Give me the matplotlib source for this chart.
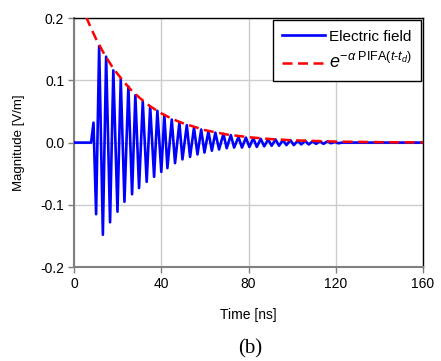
import matplotlib
matplotlib.use("Agg")
import matplotlib.pyplot as plt

plt.rcParams['font.family'] = ['Liberation Sans', 'DejaVu Sans']
plt.rcParams['axes.unicode_minus'] = False
plt.rcParams['mathtext.fontset'] = 'custom'
plt.rcParams['mathtext.rm'] = 'Liberation Sans'
plt.rcParams['mathtext.it'] = 'Liberation Sans:italic'

# Electric field: extrema (time ns, value V/m)
field_t = [0.0, 7.8, 8.9, 10.1, 11.5, 13.2, 14.7, 16.5, 18.0, 19.9, 21.4, 23.1, 24.9,
           26.6, 28.1, 29.8, 31.5, 33.3, 34.9, 36.7, 38.2, 40.0, 41.4, 42.8, 44.8,
           46.3, 48.3, 49.7, 51.7, 53.2, 55.0, 56.6, 58.3, 59.8, 61.6, 63.2, 64.8,
           66.5, 68.5, 70.0, 71.9, 73.4, 75.4, 77.0, 78.8, 80.4, 82.2, 83.8, 85.6,
           87.2, 89.0, 90.6, 92.4, 94.0, 95.8, 97.4, 99.2, 100.8, 102.6, 104.2,
           106.0, 107.6, 109.4, 111.0, 112.8, 114.4, 116.2, 117.8, 119.6, 121.2,
           123.0, 160.0]
field_v = [0.0, 0.0, 0.032, -0.115, 0.155, -0.148, 0.138, -0.128, 0.116, -0.111, 0.102,
           -0.095, 0.090, -0.083, 0.076, -0.073, 0.066, -0.063, 0.058, -0.055, 0.051,
           -0.047, 0.044, -0.041, 0.037, -0.033, 0.032, -0.027, 0.028, -0.023, 0.024,
           -0.019, 0.021, -0.016, 0.018, -0.013, 0.016, -0.011, 0.014, -0.009, 0.012,
           -0.008, 0.009, -0.008, 0.008, -0.007, 0.007, -0.007, 0.006, -0.006, 0.005,
           -0.005, 0.005, -0.005, 0.004, -0.004, 0.004, -0.004, 0.003, -0.003, 0.003,
           -0.003, 0.002, -0.002, 0.002, -0.002, 0.002, -0.001, 0.001, -0.001, 0.0, 0.0]

# Exponential envelope
env_t = [5.5, 8, 10, 12, 14, 16, 18, 20, 23, 26, 30, 35, 40, 45, 50, 60, 70, 80, 90,
         100, 120, 140, 160]
env_v = [0.202, 0.182, 0.167, 0.154, 0.141, 0.130, 0.119, 0.110, 0.097, 0.085, 0.072,
         0.058, 0.047, 0.038, 0.031, 0.020, 0.013, 0.0087, 0.0057, 0.0037, 0.0016,
         0.0007, 0.0003]

xticks = [0, 40, 80, 120, 160]
yticks = [-0.2, -0.1, 0.0, 0.1, 0.2]
ytick_labels = ['-0.2', '-0.1', '0.0', '0.1', '0.2']

fig = plt.figure(figsize=(4.41, 3.61), dpi=100)
ax = fig.add_axes([0.168, 0.260, 0.791, 0.690])

ax.plot(field_t, field_v, color='#0000ff', lw=1.9, label='Electric field', zorder=3)
ax.plot(env_t, env_v, color='#ff0000', lw=1.8, ls=(0, (4, 2.2)),
        label=r'$e^{-\alpha\ \mathrm{PIFA}(t\text{-}t_d)}$', zorder=4)

ax.set_xlim(0, 160)
ax.set_ylim(-0.2, 0.2)
ax.set_xticks(xticks)
ax.set_yticks(yticks)
ax.set_yticklabels(ytick_labels)
ax.tick_params(direction='out', length=4, width=1, color='#808080', labelsize=10, pad=3)
ax.grid(True, color='#cccccc', lw=1)
ax.set_axisbelow(True)
for s in ['left', 'bottom']:
    ax.spines[s].set_color('#808080')
    ax.spines[s].set_linewidth(1.5)
for s in ['top', 'right']:
    ax.spines[s].set_color('black')
    ax.spines[s].set_linewidth(1.0)

ax.set_xlabel('Time [ns]', fontsize=10, labelpad=12)
ax.set_ylabel('Magnitude [V/m]', fontsize=9.5, labelpad=11)

leg = ax.legend(loc='upper right', fontsize=11, frameon=True, fancybox=False,
                edgecolor='black', framealpha=1, borderpad=0.6, handlelength=2.8,
                handletextpad=0.25, labelspacing=0.55, borderaxespad=0.15)
leg.get_frame().set_linewidth(1.0)
leg.get_texts()[1].set_fontsize(13)

fig.text(0.567, 0.035, '(b)', ha='center', va='center', fontsize=15,
         family='Liberation Serif')

fig.savefig('out.png', dpi=100)
